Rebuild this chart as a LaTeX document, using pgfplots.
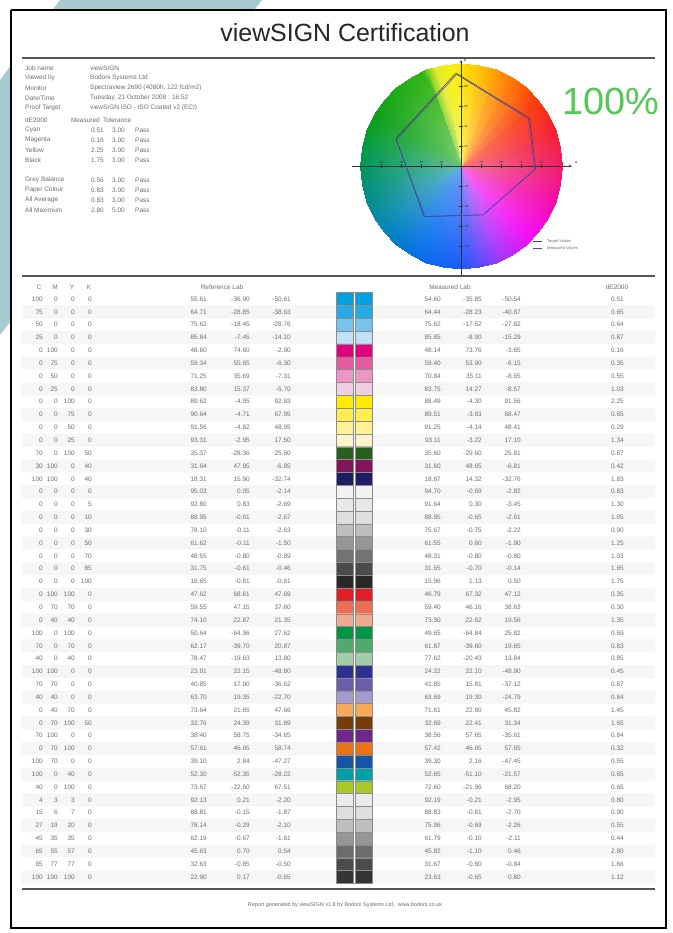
\documentclass[border=0pt]{standalone}
\usepackage{fontspec}
\setmainfont{Liberation Sans}
\usepackage{pgfplots}
\usepackage{pgfplotstable}
\pgfplotsset{compat=1.18}
\usetikzlibrary{fadings,arrows.meta}
\tikzfading[name=wheelfade, inner color=transparent!0, outer color=transparent!100]

\definecolor{txtgray}{RGB}{110,110,110}
\definecolor{band}{RGB}{168,203,209}
\definecolor{rulegray}{RGB}{85,85,85}
\definecolor{okgreen}{RGB}{84,200,84}
\definecolor{measblue}{RGB}{80,70,220}
\definecolor{stripe}{RGB}{246,246,246}

% C M Y K, reference Lab, measured Lab, dE2000
\pgfplotstableread{
C M Y K L a b Lm am bm dE
100 0 0 0 55.61 -36.90 -50.61 54.60 -35.85 -50.54 0.51
75 0 0 0 64.71 -28.85 -38.63 64.44 -28.23 -40.87 0.65
50 0 0 0 75.62 -18.45 -28.76 75.62 -17.52 -27.82 0.64
25 0 0 0 85.84 -7.45 -14.10 85.85 -8.90 -15.29 0.87
0 100 0 0 48.60 74.60 -2.90 48.14 73.76 -3.65 0.16
0 75 0 0 59.34 55.65 -6.30 59.40 53.90 -6.15 0.35
0 50 0 0 71.25 35.69 -7.31 70.84 35.11 -8.65 0.55
0 25 0 0 83.80 15.37 -5.70 83.75 14.27 -8.57 1.03
0 0 100 0 89.62 -4.95 92.93 88.49 -4.30 91.56 2.25
0 0 75 0 90.64 -4.71 67.95 89.51 -3.93 68.47 0.65
0 0 50 0 91.56 -4.82 48.95 91.25 -4.14 48.41 0.29
0 0 25 0 93.31 -2.95 17.50 93.11 -3.22 17.10 1.34
70 0 100 50 35.37 -28.36 25.60 35.60 -29.60 25.81 0.87
30 100 0 40 31.64 47.95 -6.85 31.60 48.65 -6.81 0.42
100 100 0 40 18.31 15.90 -32.74 18.87 14.32 -32.76 1.83
0 0 0 0 95.03 0.05 -2.14 94.70 -0.69 -2.82 0.83
0 0 0 5 92.80 0.83 -2.69 91.64 0.30 -3.45 1.30
0 0 0 10 88.95 -0.61 -2.67 88.95 -0.65 -2.61 1.05
0 0 0 30 78.10 -0.11 -2.63 75.67 -0.75 -2.22 0.90
0 0 0 50 61.62 -0.11 -1.50 61.55 0.60 -1.90 1.25
0 0 0 70 48.55 -0.80 -0.89 48.31 -0.80 -0.80 1.03
0 0 0 85 31.75 -0.61 -0.46 31.65 -0.70 -0.14 1.65
0 0 0 100 16.65 -0.81 -0.61 15.96 1.13 0.50 1.75
0 100 100 0 47.62 68.61 47.69 46.79 67.32 47.12 0.35
0 70 70 0 59.55 47.15 37.60 59.40 46.16 38.63 0.30
0 40 40 0 74.10 22.87 21.35 73.30 22.62 19.56 1.35
100 0 100 0 50.64 -64.96 27.62 49.65 -64.84 25.82 0.59
70 0 70 0 62.17 -39.70 20.87 61.87 -39.60 19.65 0.83
40 0 40 0 78.47 -19.63 13.80 77.62 -20.43 13.84 0.85
100 100 0 0 23.91 22.15 -48.80 24.22 22.10 -48.90 0.45
70 70 0 0 40.85 17.90 -36.62 41.85 15.81 -37.12 0.87
40 40 0 0 63.70 19.35 -22.70 63.69 19.30 -24.79 0.84
0 40 70 0 73.64 21.65 47.66 71.61 22.80 45.82 1.45
0 70 100 50 32.76 24.39 31.69 32.69 22.41 31.34 1.65
70 100 0 0 38.40 58.75 -34.65 38.56 57.65 -35.61 0.84
0 70 100 0 57.61 46.65 58.74 57.42 46.65 57.65 0.32
100 70 0 0 39.10 2.84 -47.27 39.30 2.16 -47.45 0.55
100 0 40 0 52.30 -52.35 -28.22 52.65 -51.10 -21.57 0.65
40 0 100 0 73.67 -22.60 67.51 72.60 -21.96 68.20 0.65
4 3 3 0 92.13 0.21 -2.20 92.19 -0.21 -2.95 0.80
15 6 7 0 88.81 -0.15 -1.87 88.83 -0.81 -2.70 0.90
27 19 20 0 78.14 -0.29 -2.10 75.96 -0.69 -2.26 0.55
45 35 35 0 62.19 -0.67 -1.61 61.79 -0.10 -2.11 0.44
65 55 57 0 45.63 0.70 0.54 45.82 -1.10 0.46 2.80
85 77 77 0 32.63 -0.85 -0.50 31.67 -0.80 -0.84 1.66
100 100 100 0 22.90 0.17 -0.65 23.63 -0.65 0.80 1.12
}\rows

% primaries and overprints on the a*b* plane
\pgfplotstableread{
a b
-4.95 92.93
68.61 47.69
74.60 -2.90
22.15 -48.80
-36.90 -50.61
-64.96 27.62
-4.95 92.93
}\target
\pgfplotstableread{
a b
-4.30 91.56
67.32 47.12
73.76 -3.65
22.10 -48.90
-35.85 -50.54
-64.84 25.82
-4.30 91.56
}\measured

\tikzset{tx/.style={font=\fontsize{6.5}{7}\selectfont, text=txtgray, inner sep=0pt}}
\pgfplotsset{txtcol/.style={draw=none, mark=none, forget plot,
    point meta=explicit symbolic, nodes near coords,
    nodes near coords align={anchor=east},
    every node near coord/.append style={font=\fontsize{6.5}{7}\selectfont, text=txtgray, inner sep=0pt}}}

\newcommand{\info}[3]{%
  \node[tx,anchor=west] at (axis cs:25,#1) {#2};
  \node[tx,anchor=west] at (axis cs:90,#1) {#3};}
\newcommand{\de}[4]{%
  \node[tx,anchor=west] at (axis cs:25,#1) {#2};
  \node[tx,anchor=east] at (axis cs:104,#1) {#3};
  \node[tx,anchor=east] at (axis cs:125,#1) {#4};
  \node[tx,anchor=west] at (axis cs:135,#1) {Pass};}
\newcommand{\sw}[4]{%
  \addplot[draw=black!45, line width=0.3bp, fill={rgb,255:red,#2;green,#3;blue,#4}, forget plot]
    table[row sep=\\, y expr=292.58+12.844*(#1-1+\thisrow{d})]
    {x d\\336 0\\372 0\\372 1\\336 1\\336 0\\};}
\newcommand{\stripe}[1]{%
  \addplot[draw=none, fill=stripe, forget plot]
    table[row sep=\\, y expr=292.58+12.844*(#1-1+\thisrow{d})]
    {x d\\22 0\\655 0\\655 1\\22 1\\22 0\\};}

\begin{document}
\begin{tikzpicture}
\begin{axis}[x=1bp, y=1bp, y dir=reverse, xmin=0, xmax=673, ymin=0, ymax=933,
    hide axis, scale only axis, clip=false,
    colormap={wheel}{rgb255(0pt)=(240,30,105) rgb255(20pt)=(245,30,50)
      rgb255(40pt)=(250,55,10) rgb255(60pt)=(255,120,0) rgb255(80pt)=(255,195,0)
      rgb255(95pt)=(250,240,0) rgb255(105pt)=(225,235,40) rgb255(113pt)=(50,180,20)
      rgb255(150pt)=(10,160,20) rgb255(180pt)=(0,150,90) rgb255(215pt)=(0,135,175)
      rgb255(245pt)=(0,110,235) rgb255(270pt)=(25,90,250) rgb255(295pt)=(170,50,250)
      rgb255(315pt)=(245,10,245) rgb255(340pt)=(245,10,170) rgb255(360pt)=(240,30,105)},
    point meta min=0, point meta max=360]

\path (axis cs:0,0) rectangle (axis cs:673,933);
% background band and page
\addplot[fill=band, draw=none, forget plot] coordinates {(60,0) (262,0) (0,335) (0,80) (60,0)};
\addplot[fill=white, draw=black, line width=2bp, forget plot] coordinates {(11,10) (666,10) (666,928) (11,928) (11,10)};

\node[font=\fontsize{25}{28}\selectfont, text=black!85] at (axis cs:345,33) {viewSIGN Certification};
\draw[rulegray, line width=2bp] (axis cs:22,58) -- (axis cs:655,58);

\info{68}{Job name}{viewSIGN}
\info{78}{Viewed by}{Bodoni Systems Ltd}
\info{88}{Monitor}{Spectraview 2690 (4080h, 122 fcd/m2)}
\info{98}{Date/Time}{Tuesday, 21 October 2008 : 16:52}
\info{108}{Proof Target}{viewSIGN ISO - ISO Coated v2 (ECI)}

\node[tx,anchor=west] at (axis cs:25,120) {dE2000};
\node[tx,anchor=east] at (axis cs:100,120) {Measured};
\node[tx,anchor=west] at (axis cs:103,120) {Tolerance};
\de{130}{Cyan}{0.51}{3.00}
\de{140}{Magenta}{0.16}{3.00}
\de{150}{Yellow}{2.25}{3.00}
\de{160}{Black}{1.75}{3.00}
\de{180}{Grey Balance}{0.56}{3.00}
\de{190}{Paper Colour}{0.83}{3.00}
\de{200}{All Average}{0.83}{3.00}
\de{210}{All Maximum}{2.80}{5.00}

% a*b* colour wheel
\addplot[surf, shader=interp, mesh/rows=37, point meta=\thisrow{t}, forget plot]
  table[row sep=\\, x expr=461+\thisrow{r}*cos(\thisrow{t}), y expr=166-1.02*\thisrow{r}*sin(\thisrow{t})]
  {t r\\0 0\\0 101\\10 0\\10 101\\20 0\\20 101\\30 0\\30 101\\40 0\\40 101\\50 0\\50 101\\
   60 0\\60 101\\70 0\\70 101\\80 0\\80 101\\90 0\\90 101\\100 0\\100 101\\110 0\\110 101\\
   120 0\\120 101\\130 0\\130 101\\140 0\\140 101\\150 0\\150 101\\160 0\\160 101\\170 0\\170 101\\
   180 0\\180 101\\190 0\\190 101\\200 0\\200 101\\210 0\\210 101\\220 0\\220 101\\230 0\\230 101\\
   240 0\\240 101\\250 0\\250 101\\260 0\\260 101\\270 0\\270 101\\280 0\\280 101\\290 0\\290 101\\
   300 0\\300 101\\310 0\\310 101\\320 0\\320 101\\330 0\\330 101\\340 0\\340 101\\350 0\\350 101\\
   360 0\\360 101\\};
\fill[white, fill opacity=0.4, path fading=wheelfade] (axis cs:461,166) ellipse[x radius=101bp, y radius=103bp];

\draw[black!80, line width=0.5bp, -{Stealth[length=3bp,width=2.5bp]}] (axis cs:352,166) -- (axis cs:572,166);
\draw[black!80, line width=0.5bp, -{Stealth[length=3bp,width=2.5bp]}] (axis cs:461,277) -- (axis cs:461,60);
\pgfplotsinvokeforeach{-80,-60,-40,-20,20,40,60,80}{
  \draw[black!80, line width=0.5bp] (axis cs:{461+#1},164) -- (axis cs:{461+#1},168);
  \draw[black!80, line width=0.5bp] (axis cs:459,{166-#1}) -- (axis cs:463,{166-#1});
  \node[font=\fontsize{3}{3}\selectfont, text=black!80, inner sep=0pt] at (axis cs:{461+#1},162) {#1};
  \node[font=\fontsize{3}{3}\selectfont, text=black!80, inner sep=0pt, anchor=west] at (axis cs:464,{166-#1}) {#1};
}
\node[font=\fontsize{3.5}{4}\selectfont, inner sep=0pt] at (axis cs:576,163) {a};
\node[font=\fontsize{3.5}{4}\selectfont, inner sep=0pt] at (axis cs:465,60) {b};

\addplot[black!75, line width=0.6bp, forget plot] table[x expr=461+\thisrow{a}, y expr=166-\thisrow{b}] {\target};
\addplot[measblue, line width=0.5bp, forget plot] table[x expr=461+\thisrow{a}, y expr=166-\thisrow{b}] {\measured};

\draw[black!75, line width=0.5bp] (axis cs:533,241) -- (axis cs:542,241);
\draw[measblue, line width=0.5bp] (axis cs:533,248) -- (axis cs:542,248);
\node[font=\fontsize{4}{4}\selectfont, text=txtgray, inner sep=0pt, anchor=west] at (axis cs:547,241) {Target Values};
\node[font=\fontsize{4}{4}\selectfont, text=txtgray, inner sep=0pt, anchor=west] at (axis cs:547,248) {Measured Values};

\node[font=\fontsize{38}{40}\selectfont, text=okgreen] at (axis cs:611,101) {100\%};

\draw[rulegray, line width=2bp] (axis cs:22,276) -- (axis cs:655,276);

% table header
\node[tx] at (axis cs:39,287) {C};
\node[tx] at (axis cs:55,287) {M};
\node[tx] at (axis cs:72,287) {Y};
\node[tx] at (axis cs:89,287) {K};
\node[tx] at (axis cs:222,287) {Reference Lab};
\node[tx] at (axis cs:450,287) {Measured Lab};
\node[tx] at (axis cs:617,287) {dE2000};

% faint row stripes
\pgfplotsinvokeforeach{2,4,...,46}{\stripe{#1}}

\addplot[txtcol] table[x expr=43, y expr=299+12.844*\coordindex, meta=C] {\rows};
\addplot[txtcol] table[x expr=58, y expr=299+12.844*\coordindex, meta=M] {\rows};
\addplot[txtcol] table[x expr=75, y expr=299+12.844*\coordindex, meta=Y] {\rows};
\addplot[txtcol] table[x expr=92, y expr=299+12.844*\coordindex, meta=K] {\rows};
\addplot[txtcol] table[x expr=207, y expr=299+12.844*\coordindex, meta=L] {\rows};
\addplot[txtcol] table[x expr=250, y expr=299+12.844*\coordindex, meta=a] {\rows};
\addplot[txtcol] table[x expr=291, y expr=299+12.844*\coordindex, meta=b] {\rows};
\addplot[txtcol] table[x expr=441, y expr=299+12.844*\coordindex, meta=Lm] {\rows};
\addplot[txtcol] table[x expr=482, y expr=299+12.844*\coordindex, meta=am] {\rows};
\addplot[txtcol] table[x expr=521, y expr=299+12.844*\coordindex, meta=bm] {\rows};
\addplot[txtcol] table[x expr=624, y expr=299+12.844*\coordindex, meta=dE] {\rows};

% colour patches
\sw{1}{0}{160}{225}
\sw{2}{40}{170}{230}
\sw{3}{120}{195}{235}
\sw{4}{190}{225}{245}
\sw{5}{225}{0}{125}
\sw{6}{230}{90}{160}
\sw{7}{235}{150}{195}
\sw{8}{240}{205}{225}
\sw{9}{255}{235}{0}
\sw{10}{255}{238}{80}
\sw{11}{255}{241}{150}
\sw{12}{255}{245}{205}
\sw{13}{40}{95}{30}
\sw{14}{130}{20}{90}
\sw{15}{30}{30}{100}
\sw{16}{242}{242}{245}
\sw{17}{232}{232}{235}
\sw{18}{222}{222}{225}
\sw{19}{190}{190}{193}
\sw{20}{150}{150}{152}
\sw{21}{115}{115}{117}
\sw{22}{75}{75}{77}
\sw{23}{40}{40}{42}
\sw{24}{225}{30}{35}
\sw{25}{235}{110}{85}
\sw{26}{240}{170}{145}
\sw{27}{0}{150}{70}
\sw{28}{80}{170}{110}
\sw{29}{160}{205}{170}
\sw{30}{45}{50}{145}
\sw{31}{105}{95}{170}
\sw{32}{165}{155}{205}
\sw{33}{245}{170}{90}
\sw{34}{120}{60}{10}
\sw{35}{110}{40}{140}
\sw{36}{235}{115}{20}
\sw{37}{20}{85}{165}
\sw{38}{0}{160}{170}
\sw{39}{170}{200}{40}
\sw{40}{235}{235}{237}
\sw{41}{220}{222}{224}
\sw{42}{190}{190}{192}
\sw{43}{150}{150}{152}
\sw{44}{108}{108}{110}
\sw{45}{75}{75}{77}
\sw{46}{52}{52}{54}
\draw[black!45, line width=0.3bp, fill=white] (axis cs:353,292.58) rectangle (axis cs:355,883.4);

\draw[rulegray, line width=2bp] (axis cs:22,889) -- (axis cs:655,889);
\node[font=\fontsize{5.5}{6}\selectfont, text=txtgray] at (axis cs:345,905) {Report generated by viewSIGN v1.8 by Bodoni Systems Ltd.\ \ www.bodoni.co.uk};
\end{axis}
\end{tikzpicture}
\end{document}
